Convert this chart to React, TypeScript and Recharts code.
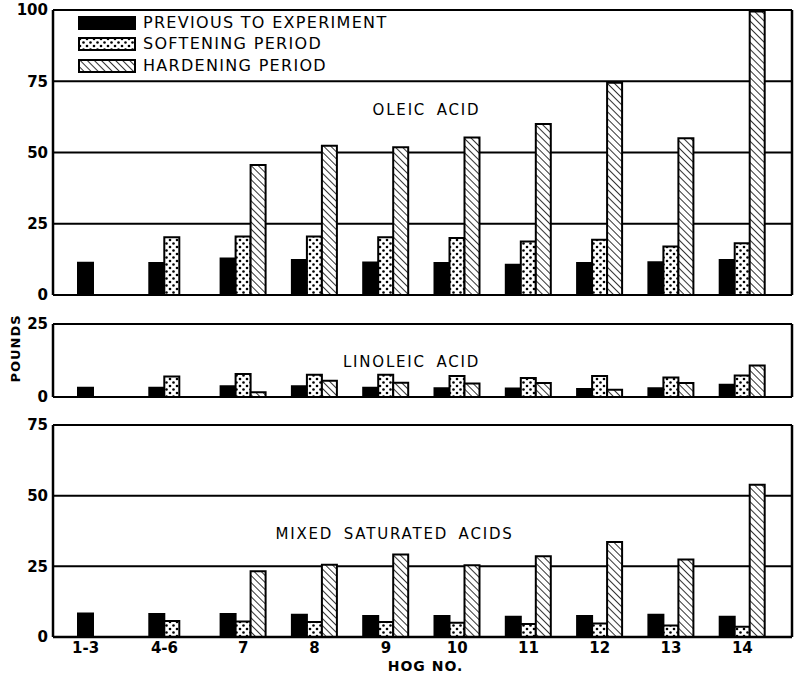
import React from 'react';
import { BarChart, Bar, XAxis, YAxis, CartesianGrid, Legend, ReferenceLine } from 'recharts';

// ---------- data ----------
const hogs = ['1-3', '4-6', '7', '8', '9', '10', '11', '12', '13', '14'];

const oleicPrev = [11.3, 11.2, 12.8, 12.3, 11.4, 11.2, 10.6, 11.2, 11.5, 12.3];
const oleicSoft = [null, 20.3, 20.5, 20.5, 20.3, 20.0, 18.8, 19.4, 17.0, 18.2];
const oleicHard = [null, null, 45.6, 52.4, 51.8, 55.3, 60.0, 74.5, 55.0, 99.5];

const linPrev = [3.2, 3.2, 3.7, 3.7, 3.2, 3.0, 2.9, 2.7, 3.0, 4.2];
const linSoft = [null, 7.0, 7.9, 7.6, 7.6, 7.2, 6.5, 7.2, 6.7, 7.4];
const linHard = [null, null, 1.6, 5.6, 4.9, 4.6, 4.8, 2.5, 4.8, 10.8];

const mixPrev = [8.3, 8.1, 8.1, 7.9, 7.4, 7.4, 7.2, 7.4, 7.9, 7.2];
const mixSoft = [null, 5.7, 5.5, 5.3, 5.3, 5.0, 4.6, 4.8, 4.1, 3.6];
const mixHard = [null, null, 23.3, 25.6, 29.2, 25.4, 28.6, 33.6, 27.4, 53.9];

const seriesKeys = ['prev', 'soft', 'hard'];
const seriesNames = ['PREVIOUS TO EXPERIMENT', 'SOFTENING PERIOD', 'HARDENING PERIOD'];
const panelTitles = ['OLEIC ACID', 'LINOLEIC ACID', 'MIXED SATURATED ACIDS'];
const oleicTicks = [0, 25, 50, 75, 100];
const linTicks = [0, 25];
const mixTicks = [0, 25, 50, 75];

type Row = { hog: string; prev: number | null; soft: number | null; hard: number | null };
const build = (p: (number | null)[], s: (number | null)[], h: (number | null)[]): Row[] =>
  hogs.map((hog, i) => ({ hog, prev: p[i], soft: s[i], hard: h[i] }));

const oleicData = build(oleicPrev, oleicSoft, oleicHard);
const linData = build(linPrev, linSoft, linHard);
const mixData = build(mixPrev, mixSoft, mixHard);

// ---------- style ----------
const FONT = '"DejaVu Sans", Verdana, sans-serif';
const BAR = 15;
const XPAD = { left: 12, right: 14 };
const LINE = '#000';

const patternDefs = (id: string) => (
  <defs>
    <pattern id={`dots-${id}`} patternUnits="userSpaceOnUse" width="7" height="7">
      <rect width="7" height="7" fill="#fff" />
      <circle cx="2" cy="2" r="1.3" fill="#000" />
      <circle cx="5.5" cy="5.5" r="1.3" fill="#000" />
    </pattern>
    <pattern id={`hatch-${id}`} patternUnits="userSpaceOnUse" width="5" height="5" patternTransform="rotate(-45)">
      <rect width="5" height="5" fill="#fff" />
      <line x1="0" y1="0" x2="0" y2="5" stroke="#000" strokeWidth="1.6" />
    </pattern>
  </defs>
);

const fillFor = (key: string, id: string) =>
  key === 'prev' ? '#000' : key === 'soft' ? `url(#dots-${id})` : `url(#hatch-${id})`;

const tickStyle = { fill: '#000', fontSize: 15, fontWeight: 'bold' as const, fontFamily: FONT };

const panelLabel = (text: string, dx: number) => (props: any) => {
  const vb = props.viewBox || {};
  return (
    <text
      x={vb.x + vb.width / 2 + dx}
      y={vb.y}
      textAnchor="middle"
      dominantBaseline="central"
      style={{ fontFamily: FONT, fontSize: 15, letterSpacing: 1.8, wordSpacing: 4, fill: '#000' }}
    >
      {text}
    </text>
  );
};

const poundsLabel = (props: any) => {
  const vb = props.viewBox || {};
  const x = vb.x + 7;
  const y = vb.y + vb.height / 2 - 12;
  return (
    <text
      x={x}
      y={y}
      transform={`rotate(-90, ${x}, ${y})`}
      textAnchor="middle"
      dominantBaseline="central"
      style={{ fontFamily: FONT, fontSize: 13, fontWeight: 'bold', letterSpacing: 1, fill: '#000' }}
    >
      POUNDS
    </text>
  );
};

const hogLabel = (props: any) => {
  const vb = props.viewBox || {};
  return (
    <text
      x={vb.x + vb.width / 2 + 3}
      y={vb.y + vb.height - 3}
      textAnchor="middle"
      style={{ fontFamily: FONT, fontSize: 14, fontWeight: 'bold', letterSpacing: 1, fill: '#000' }}
    >
      HOG NO.
    </text>
  );
};

const CategoryTick = (props: any) => {
  const { x, y, payload, index } = props;
  const row = mixData[index] || mixData.find((r) => r.hog === payload.value);
  const present = row ? seriesKeys.filter((k) => (row as any)[k] != null).length : 3;
  const shift = ((present - 3) * BAR) / 2;
  return (
    <text x={x + shift} y={y} dy="0.75em" textAnchor="middle" style={tickStyle}>
      {payload.value}
    </text>
  );
};

const LegendContent = (props: any) => {
  const payload = [...(props.payload || [])].sort(
    (a: any, b: any) => seriesKeys.indexOf(a.dataKey) - seriesKeys.indexOf(b.dataKey)
  );
  return (
    <div style={{ display: 'flex', flexDirection: 'column' }}>
      {payload.map((p: any) => (
        <div key={p.dataKey} style={{ display: 'flex', alignItems: 'center', height: 21.5 }}>
          <svg width={58} height={14} style={{ display: 'block' }}>
            <rect x={1} y={1} width={56} height={12} fill={fillFor(p.dataKey, 'top')} stroke="#000" strokeWidth={2} />
          </svg>
          <span
            style={{
              marginLeft: 7,
              fontFamily: FONT,
              fontSize: 16,
              letterSpacing: 1.3,
              color: '#000',
              whiteSpace: 'nowrap',
              lineHeight: '16px',
            }}
          >
            {p.value}
          </span>
        </div>
      ))}
    </div>
  );
};

const bars = (id: string) =>
  seriesKeys.map((k, i) => (
    <Bar
      key={k}
      dataKey={k}
      name={seriesNames[i]}
      fill={fillFor(k, id)}
      stroke="#000"
      strokeWidth={2}
      barSize={BAR}
      isAnimationActive={false}
    />
  ));

const rightBorder = (
  <YAxis
    yAxisId="r"
    orientation="right"
    width={1}
    domain={[0, 1]}
    tick={false}
    tickLine={false}
    axisLine={{ stroke: LINE, strokeWidth: 2.5 }}
  />
);

const leftAxis = (domain: [number, number], ticks: number[], extra: any = {}) => (
  <YAxis
    domain={domain}
    ticks={ticks}
    interval={0}
    width={45}
    tickLine={false}
    tickSize={0}
    tickMargin={5}
    axisLine={{ stroke: LINE, strokeWidth: 2.5 }}
    tick={tickStyle}
    {...extra}
  />
);

export default function App() {
  return (
    <div style={{ position: 'absolute', left: 0, top: 0, width: 796, height: 674, background: '#fff' }}>
      {/* OLEIC */}
      <div style={{ position: 'absolute', left: 0, top: 0 }}>
        <BarChart width={796} height={312} data={oleicData} margin={{ top: 10, right: 3, bottom: 17, left: 8 }} barGap={0}>
          {patternDefs('top')}
          <CartesianGrid vertical={false} stroke={LINE} strokeWidth={2} />
          <XAxis dataKey="hog" hide padding={XPAD} />
          {leftAxis([0, 100], oleicTicks)}
          {rightBorder}
          <ReferenceLine y={65} stroke="none" label={panelLabel(panelTitles[0], 4)} />
          {bars('top')}
          <Legend
            layout="vertical"
            align="center"
            verticalAlign="middle"
            itemSorter={null as any}
            wrapperStyle={{ left: 78, top: 12, width: 330, height: 66 }}
            content={LegendContent}
          />
        </BarChart>
      </div>

      {/* LINOLEIC */}
      <div style={{ position: 'absolute', left: 0, top: 300 }}>
        <BarChart width={796} height={116} data={linData} margin={{ top: 24, right: 3, bottom: 19, left: 8 }} barGap={0}>
          {patternDefs('mid')}
          <CartesianGrid vertical={false} stroke={LINE} strokeWidth={2} />
          <XAxis dataKey="hog" hide padding={XPAD} />
          {leftAxis([0, 25], linTicks, { label: poundsLabel })}
          {rightBorder}
          <ReferenceLine y={12} stroke="none" label={panelLabel(panelTitles[1], -11)} />
          {bars('mid')}
        </BarChart>
      </div>

      {/* MIXED SATURATED */}
      <div style={{ position: 'absolute', left: 0, top: 410 }}>
        <BarChart width={796} height={264} data={mixData} margin={{ top: 15, right: 3, bottom: 0, left: 8 }} barGap={0}>
          {patternDefs('bot')}
          <CartesianGrid vertical={false} stroke={LINE} strokeWidth={2} />
          <XAxis
            dataKey="hog"
            padding={XPAD}
            height={37}
            interval={0}
            tickLine={false}
            tickSize={0}
            tickMargin={5}
            axisLine={{ stroke: LINE, strokeWidth: 2.5 }}
            tick={CategoryTick}
            label={hogLabel}
          />
          {leftAxis([0, 75], mixTicks)}
          {rightBorder}
          <ReferenceLine y={36.6} stroke="none" label={panelLabel(panelTitles[2], -28)} />
          {bars('bot')}
        </BarChart>
      </div>
    </div>
  );
}
